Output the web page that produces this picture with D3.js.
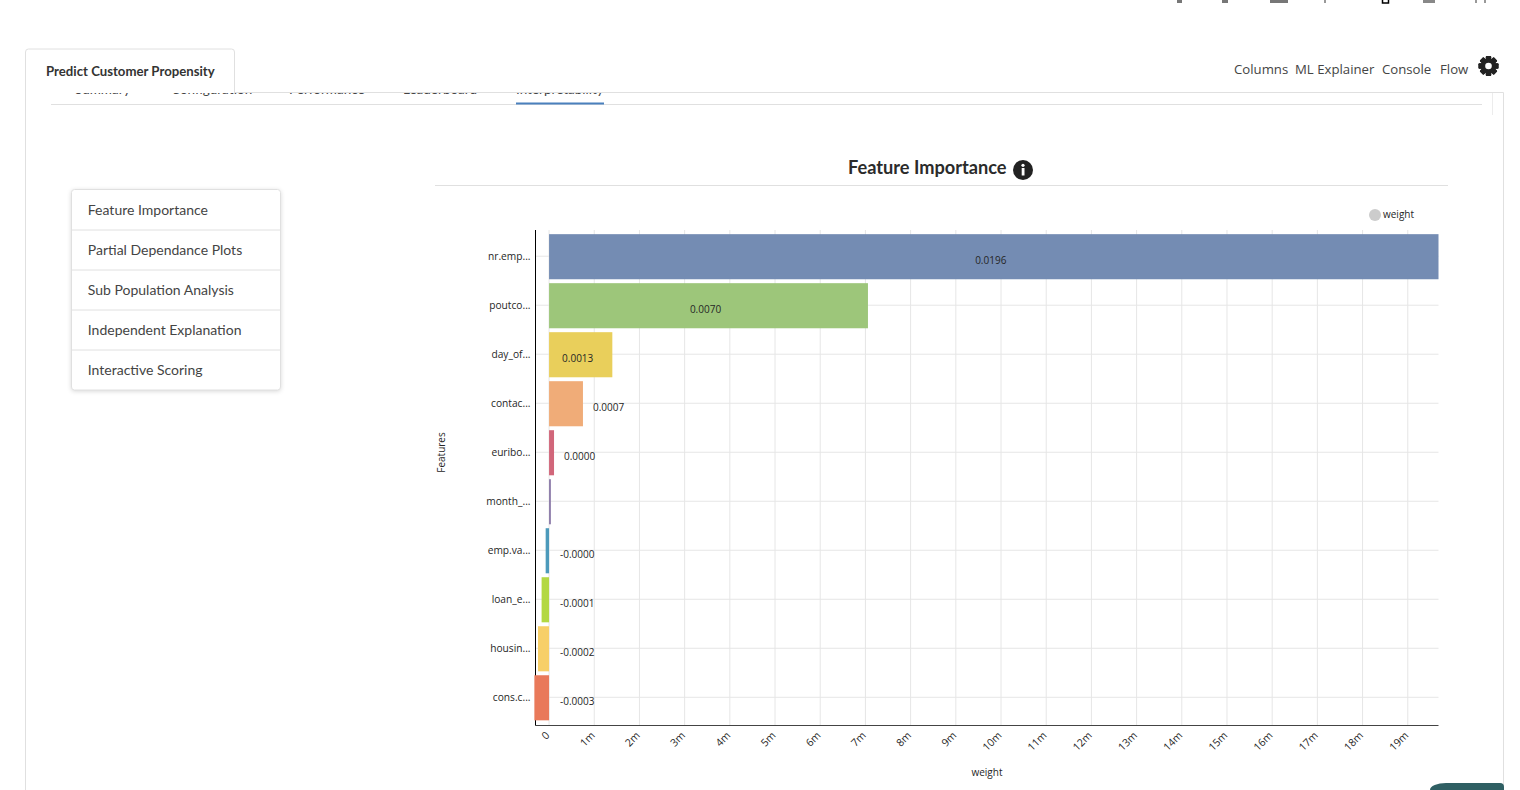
<!DOCTYPE html>
<html>
<head>
<meta charset="utf-8">
<script src="https://cdn.jsdelivr.net/npm/d3@7"></script>
<style>
  html, body { margin: 0; padding: 0; background: #fff; overflow: hidden; }
  svg { display: block; }
  .ui { font-family: Lato, sans-serif; }
  .chart text { font-family: "Open Sans", sans-serif; font-size: 10px; fill: #262626; }
</style>
</head>
<body>
<svg id="page" width="1520" height="790"></svg>
<script>
// chart data
const features = ['nr.emp...', 'poutco...', 'day_of...', 'contac...', 'euribo...', 'month_...', 'emp.va...', 'loan_e...', 'housin...', 'cons.c...'];
const weights = [0.01968, 0.007056, 0.0014, 0.00075, 0.00011, 0.00004, -0.000075, -0.000165, -0.000245, -0.000325];
const weightLabels = ['0.0196', '0.0070', '0.0013', '0.0007', '0.0000', '', '-0.0000', '-0.0001', '-0.0002', '-0.0003'];
const barColors = ['#748cb3', '#9dc67a', '#e9cf5b', '#f0ac78', '#d1667a', '#8a79a8', '#4c9abb', '#b3d843', '#f7cf68', '#e9795a'];
const xTicks = [0, 0.001, 0.002, 0.003, 0.004, 0.005, 0.006, 0.007, 0.008, 0.009, 0.01, 0.011, 0.012, 0.013, 0.014, 0.015, 0.016, 0.017, 0.018, 0.019];
const xDomain = [-0.0003, 0.01968];

// page furniture
const sideItems = ['Feature Importance', 'Partial Dependance Plots', 'Sub Population Analysis', 'Independent Explanation', 'Interactive Scoring'];
const subTabs = [['Summary', 75], ['Configuration', 171], ['Performance', 289], ['Leaderboard', 403], ['Interpretability', 516]];
const navLinks = [['Columns', 1234], ['ML Explainer', 1295], ['Console', 1382], ['Flow', 1440]];

const svg = d3.select('#page');
const border = '#e0e0e0';

// scraps of the browser toolbar cut off at the top edge
const scraps = [[1177, 5, '#777'], [1222, 6, '#777'], [1270, 18, '#777'], [1324, 2, '#999'], [1423, 12, '#888'], [1475, 2, '#999'], [1484, 2, '#999']];
svg.selectAll('rect.scrap').data(scraps).join('rect')
  .attr('class', 'scrap').attr('x', d => d[0]).attr('y', 0).attr('width', d => d[1]).attr('height', 3).attr('fill', d => d[2]);
svg.append('rect').attr('x', 1382.5).attr('y', -2).attr('width', 6).attr('height', 5).attr('fill', '#fff').attr('stroke', '#000').attr('stroke-width', 1.5);

// main panel
svg.append('path').attr('d', 'M25.5,790V92.5H1503.5V790').attr('fill', 'none').attr('stroke', border);
svg.append('path').attr('d', 'M1492.5,93V115').attr('stroke', '#ececec');
svg.append('path').attr('d', 'M51,104.5H1482').attr('stroke', border);

// sub tabs are scrolled behind the panel top, only their feet show
svg.append('clipPath').attr('id', 'tabClip').append('rect').attr('x', 26).attr('y', 93).attr('width', 1470).attr('height', 12);
svg.append('g').attr('clip-path', 'url(#tabClip)').selectAll('text').data(subTabs).join('text')
  .attr('class', 'ui').attr('x', d => d[1]).attr('y', 93.5).attr('font-size', 13.5).attr('fill', '#444').text(d => d[0]);
svg.append('rect').attr('x', 516).attr('y', 102.5).attr('width', 88).attr('height', 2).attr('fill', '#4a80bd');

// top tab
svg.append('path').attr('d', 'M25.5,93V52a3,3 0 0 1 3,-3H231.5a3,3 0 0 1 3,3V93').attr('fill', '#fff').attr('stroke', border);
svg.append('text').attr('class', 'ui').attr('x', 46).attr('y', 76).attr('font-size', 13.2).attr('font-weight', 700).attr('fill', '#333').text('Predict Customer Propensity');

svg.selectAll('text.nav').data(navLinks).join('text')
  .attr('class', 'nav').attr('x', d => d[1]).attr('y', 74)
  .attr('font-family', '"Open Sans", sans-serif').attr('font-size', 13.2).attr('fill', '#444').text(d => d[0]);

// settings cog
const cog = svg.append('g').attr('transform', 'translate(1488.5,66)');
cog.selectAll('rect').data(d3.range(8)).join('rect')
  .attr('x', -2.7).attr('y', -10).attr('width', 5.4).attr('height', 20).attr('rx', 1)
  .attr('fill', '#222').attr('transform', d => `rotate(${d * 45})`);
cog.append('circle').attr('r', 7.4).attr('fill', '#222');
cog.append('circle').attr('r', 3.3).attr('fill', '#fff');

// side menu
const menu = svg.append('g').attr('transform', 'translate(71.5,189.5)');
menu.append('rect').attr('width', 209).attr('height', 200.5).attr('rx', 3).attr('fill', '#fff').attr('stroke', border)
  .style('filter', 'drop-shadow(0 1px 2px rgba(0,0,0,0.15))');
menu.selectAll('line').data(d3.range(1, sideItems.length)).join('line')
  .attr('x1', 0).attr('x2', 209).attr('y1', d => d * 40 + 0.5).attr('y2', d => d * 40 + 0.5).attr('stroke', border);
menu.selectAll('text').data(sideItems).join('text')
  .attr('class', 'ui').attr('x', 16.3).attr('y', (d, i) => i * 40 + 25.5).attr('font-size', 14).attr('fill', '#444').text(d => d);

// title
svg.append('text').attr('class', 'ui').attr('x', 848).attr('y', 174).attr('font-size', 18.2).attr('font-weight', 700).attr('fill', '#2b2b2b').text('Feature Importance');
svg.append('circle').attr('cx', 1023).attr('cy', 170).attr('r', 10).attr('fill', '#222');
svg.append('circle').attr('cx', 1023).attr('cy', 165.3).attr('r', 1.6).attr('fill', '#fff');
svg.append('rect').attr('x', 1021.7).attr('y', 168).attr('width', 2.8).attr('height', 7.5).attr('fill', '#fff');
svg.append('path').attr('d', 'M435,185.5H1448').attr('stroke', border);

// chart
const plotLeft = 535.5, plotRight = 1438.5, plotTop = 230, plotBottom = 725.5;
const chart = svg.append('g').attr('class', 'chart');

const x = d3.scaleLinear().domain(xDomain).range([plotLeft, plotRight]);
// bands stop just short of the x axis, the y axis line runs on down to it
const y = d3.scaleBand().domain(features).range([plotTop, plotBottom - 1]).paddingInner(0.08).paddingOuter(0.085);

// grid lines and axes sit under the bars
chart.append('g').selectAll('line').data(xTicks).join('line')
  .attr('x1', d => x(d)).attr('x2', d => x(d)).attr('y1', plotTop).attr('y2', plotBottom).attr('stroke', '#e6e6e6');
chart.append('g').selectAll('line').data(features).join('line')
  .attr('x1', plotLeft).attr('x2', plotRight)
  .attr('y1', d => y(d) + y.bandwidth() / 2 - 0.5).attr('y2', d => y(d) + y.bandwidth() / 2 - 0.5)
  .attr('stroke', '#e6e6e6');

const xAxis = chart.append('g')
  .attr('transform', `translate(0,${plotBottom})`)
  .call(d3.axisBottom(x).tickValues(xTicks).tickFormat(d3.format('~s')).tickSize(0).tickPadding(6).offset(0));
xAxis.select('.domain').attr('stroke', '#444');
xAxis.selectAll('text')
  .style('font-size', '10.5px')
  .attr('text-anchor', 'end')
  .attr('dx', '0.05em')
  .attr('dy', '0.5em')
  .attr('transform', 'rotate(-45,0,10)');

const yAxis = chart.append('g')
  .attr('transform', `translate(${plotLeft},0)`)
  .call(d3.axisLeft(y).tickSize(0).tickPadding(5).offset(0));
yAxis.select('.domain').attr('stroke', '#000').attr('d', `M0,${plotTop}V${plotBottom}`);
yAxis.selectAll('text').style('font-size', '10.2px');

chart.append('g').selectAll('rect').data(weights).join('rect')
  .attr('x', d => x(Math.min(0, d)))
  .attr('y', (d, i) => y(features[i]))
  .attr('width', d => Math.abs(x(d) - x(0)))
  .attr('height', y.bandwidth())
  .attr('fill', (d, i) => barColors[i]);

// labels sit in the middle of wide bars, otherwise beside them
chart.append('g').selectAll('text').data(weights).join('text')
  .attr('x', d => {
    if (x(d) - x(0) > 50) return (x(0) + x(d)) / 2 - 3;
    return d < 0 ? x(0) + 11 : x(d) + 10;
  })
  .attr('y', (d, i) => y(features[i]) + y.bandwidth() / 2)
  .attr('dy', '0.72em')
  .attr('text-anchor', d => x(d) - x(0) > 50 ? 'middle' : 'start')
  .text((d, i) => weightLabels[i]);

chart.append('text').attr('x', 987).attr('y', 776).attr('text-anchor', 'middle').text('weight');
chart.append('text').attr('transform', 'translate(445,452.5) rotate(-90)').attr('text-anchor', 'middle').text('Features');

// legend
svg.append('circle').attr('cx', 1375).attr('cy', 215).attr('r', 6).attr('fill', '#ccc');
chart.append('text').attr('x', 1383).attr('y', 218).text('weight');

// chat button cut off at the bottom right
svg.append('path').attr('d', 'M1430,790A16,7 0 0 1 1446,783H1500a4,4 0 0 1 4,4V790Z').attr('fill', '#2f5f63');
</script>
</body>
</html>
